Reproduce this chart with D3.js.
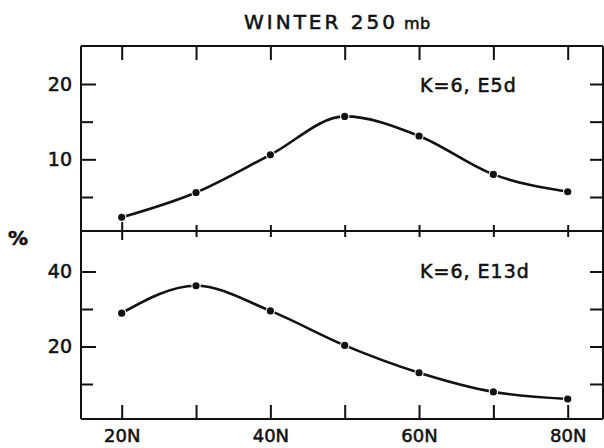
<!DOCTYPE html>
<html>
<head>
<meta charset="utf-8">
<script src="https://cdn.jsdelivr.net/npm/d3@7"></script>
<style>
  html, body { margin: 0; padding: 0; background: #fff; }
  svg { display: block; }
  text { font-family: "DejaVu Sans", sans-serif; fill: #111; stroke: #111; stroke-width: 0.55px; }
</style>
</head>
<body>
<svg id="chart" width="604" height="448"></svg>
<script>
// ---- data ----
const latitudes = [20, 30, 40, 50, 60, 70, 80];
const e5dValues = [2.3, 5.6, 10.6, 15.7, 13.1, 8.0, 5.7];
const e13dValues = [28.9, 36.2, 29.5, 20.3, 13.0, 7.9, 6.0];
const xTickValues = [20, 30, 40, 50, 60, 70, 80];
const xTickLabels = ["20N", "40N", "60N", "80N"];
const topYTicks = [5, 10, 15, 20];
const topYLabels = [10, 20];
const bottomYTicks = [10, 20, 30, 40];
const bottomYLabels = [20, 40];
const titleText = "WINTER 250";
const titleUnit = "mb";
const topPanelLabel = "K=6, E5d";
const bottomPanelLabel = "K=6, E13d";
const yAxisLabel = "%";

// ---- layout ----
const svg = d3.select("#chart");
const frameL = 81, frameR = 603, frameT = 46, frameM = 231, frameB = 419;
const ink = "#111";

const x = d3.scaleLinear().domain([20, 80]).range([121.7, 567.7]);
const yTop = d3.scaleLinear().domain([5, 20]).range([197, 84]);
const yBot = d3.scaleLinear().domain([10, 40]).range([384, 271.5]);

const g = svg.append("g");

// frame lines
const frame = g.append("g").attr("stroke", ink).attr("stroke-width", 2).attr("fill", "none");
frame.append("line").attr("x1", frameL).attr("x2", frameR).attr("y1", frameT).attr("y2", frameT);
frame.append("line").attr("x1", frameL).attr("x2", frameR).attr("y1", frameM).attr("y2", frameM);
frame.append("line").attr("x1", frameL).attr("x2", frameR).attr("y1", frameB).attr("y2", frameB);
frame.append("line").attr("x1", frameL).attr("x2", frameL).attr("y1", frameT).attr("y2", frameB);
frame.append("line").attr("x1", frameR).attr("x2", frameR).attr("y1", frameT).attr("y2", frameB);

function styleAxis(sel) {
  sel.select(".domain").remove();
  sel.selectAll(".tick line").attr("stroke", ink).attr("stroke-width", 2);
  sel.selectAll(".tick text").attr("fill", ink).attr("stroke", ink).attr("stroke-width", 0.55)
    .style("font-family", "DejaVu Sans, sans-serif");
}

// left axes (ticks inward)
const topLeft = g.append("g").attr("transform", `translate(${frameL},0)`)
  .call(d3.axisLeft(yTop).tickValues(topYTicks).tickSize(-14).tickPadding(9)
    .tickFormat(d => topYLabels.includes(d) ? d : ""));
styleAxis(topLeft);
topLeft.selectAll(".tick line").attr("x2", d => topYLabels.includes(d) ? 15 : 12);
topLeft.selectAll(".tick text").style("font-size", "19px");

const botLeft = g.append("g").attr("transform", `translate(${frameL},0)`)
  .call(d3.axisLeft(yBot).tickValues(bottomYTicks).tickSize(-14).tickPadding(9)
    .tickFormat(d => bottomYLabels.includes(d) ? d : ""));
styleAxis(botLeft);
botLeft.selectAll(".tick line").attr("x2", d => bottomYLabels.includes(d) ? 15 : 12);
botLeft.selectAll(".tick text").style("font-size", "19px");

// right axes (ticks inward)
const topRight = g.append("g").attr("transform", `translate(${frameR},0)`)
  .call(d3.axisRight(yTop).tickValues(topYTicks).tickSize(-13).tickFormat(""));
styleAxis(topRight);
const botRight = g.append("g").attr("transform", `translate(${frameR},0)`)
  .call(d3.axisRight(yBot).tickValues(bottomYTicks).tickSize(-13).tickFormat(""));
styleAxis(botRight);

// top axis ticks (downward)
const topAxis = g.append("g").attr("transform", `translate(0,${frameT})`)
  .call(d3.axisTop(x).tickValues(xTickValues).tickSize(-14).tickFormat(""));
styleAxis(topAxis);

// middle axis ticks (crossing)
const midAxis = g.append("g").attr("transform", `translate(0,${frameM})`)
  .call(d3.axisBottom(x).tickValues(xTickValues).tickSize(6).tickFormat(""));
styleAxis(midAxis);
midAxis.selectAll(".tick line").attr("y1", d => d === 20 ? -9 : -6).attr("y2", d => d === 20 ? 9 : 6);

// bottom axis (ticks upward) with labels
const botAxis = g.append("g").attr("transform", `translate(0,${frameB})`)
  .call(d3.axisBottom(x).tickValues(xTickValues).tickSize(-14).tickPadding(10)
    .tickFormat(d => { const s = d + "N"; return xTickLabels.includes(s) ? s : ""; }));
styleAxis(botAxis);
botAxis.selectAll(".tick text").style("font-size", "18px").attr("dy", "0.71em");

// curves
const topData = latitudes.map((lat, i) => ({ lat, v: e5dValues[i] }));
const botData = latitudes.map((lat, i) => ({ lat, v: e13dValues[i] }));

function drawSeries(data, yScale) {
  const line = d3.line().x(d => x(d.lat)).y(d => yScale(d.v)).curve(d3.curveMonotoneX);
  g.append("path").datum(data).attr("d", line)
    .attr("fill", "none").attr("stroke", ink).attr("stroke-width", 2.6)
    .attr("stroke-linecap", "round");
  g.append("g").selectAll("circle").data(data).join("circle")
    .attr("cx", d => x(d.lat)).attr("cy", d => yScale(d.v)).attr("r", 3.6)
    .attr("fill", ink).attr("stroke", "#fff").attr("stroke-width", 2.2)
    .attr("paint-order", "stroke");
}
drawSeries(topData, yTop);
drawSeries(botData, yBot);

// text
const title = svg.append("text").attr("x", 244).attr("y", 29)
  .style("font-size", "20px").style("letter-spacing", "3px");
title.append("tspan").text(titleText);
title.append("tspan").attr("dx", 6).style("font-size", "16px").style("letter-spacing", "0.5px").text(titleUnit);

svg.append("text").attr("x", 420).attr("y", 92).style("font-size", "19px")
  .style("letter-spacing", "1px").text(topPanelLabel);
svg.append("text").attr("x", 420).attr("y", 278).style("font-size", "19px")
  .style("letter-spacing", "1px").text(bottomPanelLabel);

svg.append("text").attr("x", 8).attr("y", 245).style("font-size", "20px")
  .style("font-weight", "bold").text(yAxisLabel);
</script>
</body>
</html>
